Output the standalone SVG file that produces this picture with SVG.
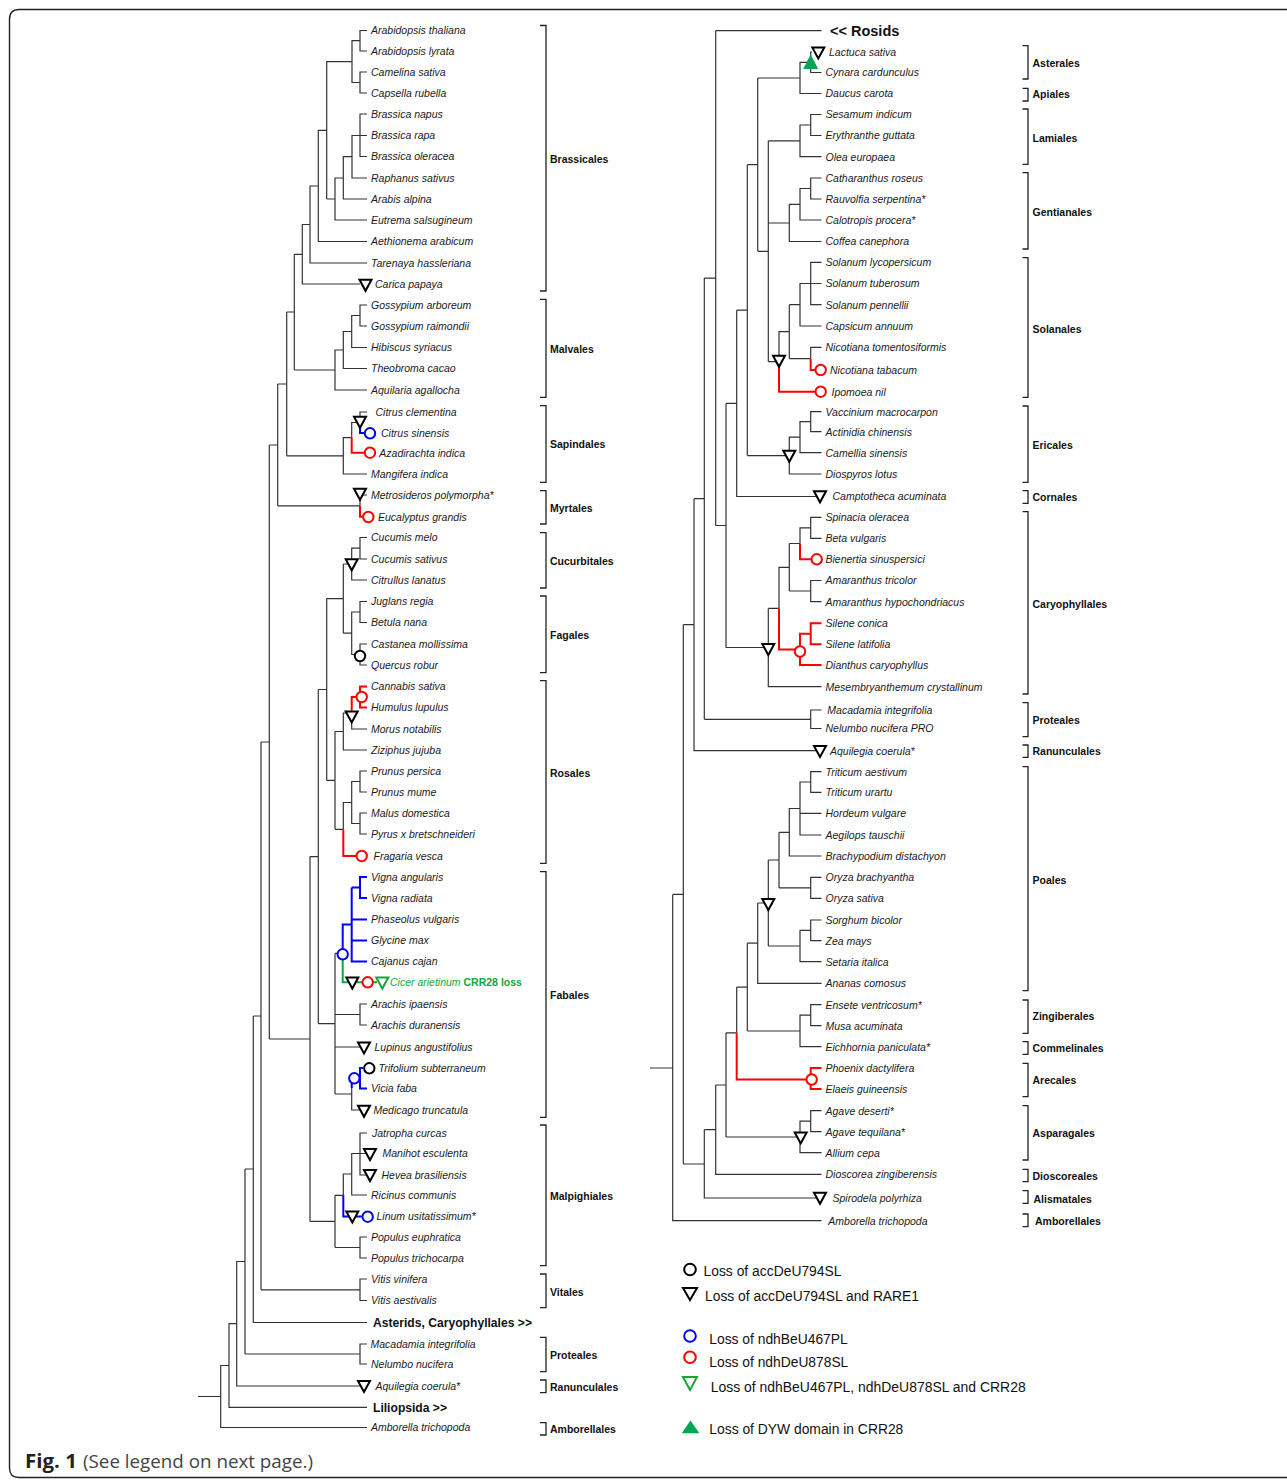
<svg xmlns="http://www.w3.org/2000/svg" xmlns:xlink="http://www.w3.org/1999/xlink" width="1287" height="1481" viewBox="0 0 1287 1481">
<style>
.ln{fill:none;stroke:#333;stroke-width:1.2}
.rd{fill:none;stroke:#f00;stroke-width:2}
.bl{fill:none;stroke:#00f;stroke-width:2}
.gr{fill:none;stroke:#13a538;stroke-width:2}
.br{fill:none;stroke:#222;stroke-width:1.3}
.sp{font-family:"Liberation Sans",Arial,sans-serif;font-style:italic;font-size:10.5px;fill:#1a1a1a}
.od{font-family:"Liberation Sans",Arial,sans-serif;font-weight:bold;font-size:10.5px;fill:#111}
.bg{font-family:"Liberation Sans",Arial,sans-serif;font-weight:bold;font-size:13.5px;fill:#111}
.lg{font-family:"Liberation Sans",Arial,sans-serif;font-size:15.5px;fill:#111}
.cap{font-family:"Open Sans","Liberation Sans",sans-serif;font-size:19px;fill:#444}
.tk{fill:#fff;stroke:#000;stroke-width:2}
.tg{fill:#fff;stroke:#13a538;stroke-width:2}
.ck{fill:#fff;stroke:#000;stroke-width:2}
.cr{fill:#fff;stroke:#f00;stroke-width:2}
.cb{fill:#fff;stroke:#00f;stroke-width:2}
</style>
<defs>
<path id="tri" d="M-6,-4.8H6L0,6.3Z"/>
</defs>
<rect width="1287" height="1481" fill="#fff"/>
<path d="M1295 9.5H19Q9.5 9.5 9.5 19V1468Q9.5 1477.5 19 1477.5H1295" fill="none" stroke="#222" stroke-width="1.4"/>

<g id="branches">
<path class="ln" d="M367 30.5H360V51H367M367 72H360V93H367M360 40.7H352V82.5H360M367 114H360V156.5H367M360 135.5H367M360 135.5H352V178H367M352 156.7H343.3V199H367M343.3 178H335V220H367M335 199H326.7M352 61.6H326.7V199M326.7 130.3H318.3V241.5H367M318.3 186H310V263H367M310 224.5H302.3V284H360M302.3 254.3H294.3
M367 305H360V326H367M360 315.5H351.7V347.5H367M351.7 331.5H343.3V368.5H367M343.3 350H335V390H367M335 370H294.3M294.3 254.3V370M294.3 312H286.7
M367 412H360V422.5M360 422.5H351.7V437.6M351.7 437.6H343.3V474H367M343.3 455.8H286.7M286.7 312V455.8M286.7 384H277.7
M367 495H360V505.8M360 505.8H277.7M277.7 384V505.8M277.7 445H269.3
M367 537.5H360V559H367M360 548.2H351.7V580H367M351.7 564H343.3
M367 601.5H360V622.5H367M367 644H360V665H367M360 612H351.7V654.5H360M351.7 633.2H343.3M343.3 564V633.2M343.3 598.6H326.7
M351.7 710V729H367M351.7 713H343.3V750H367M343.3 731.5H335M367 771H360V792H367M367 813H360V834H367M360 781.5H351.7V823.5H360M351.7 802.5H343.3V829.3M343.3 829.3H335M335 731.5V829.3M335 780.4H326.7M326.7 598.6V780.4M326.7 689.5H318.3
M342.7 953.4H335M367 1004H360V1025H367M360 1014.5H335M335 1047H364M351.7 1078.3V1110H364M351.7 1094H335M335 953.4V1094M335 1023.7H318.3M318.3 689.5V1023.7M318.3 856.6H310
M367 1133H360V1175H370M360 1153.5H370M360 1153.5H351.7V1195H367M351.7 1174H343.3V1195.3M343.3 1195.3H335M367 1237H360V1258H367M360 1247.5H335M335 1195.3V1247.5M335 1221.4H310M310 856.6V1221.4M310 1039H269.3M269.3 445V1039M269.3 742H261
M367 1279H360V1300.5H367M360 1289.8H261M261 742V1289.8M261 1016H253.3M253.3 1016V1322.5H367M253.3 1169H245M367 1344H360V1364H367M360 1354H245M245 1169V1354M245 1261.5H236.7V1386H364M236.7 1323.7H229V1407.3H367M229 1365.5H220.7V1427.5H367M220.7 1396.5H198"/>
<path class="rd" d="M351.7 437.6V452.7H364M360 505.8V516.7H362M367 686.5H360V707.5H367M360 697H351.7V710M343.3 829.3V856H356"/>
<path class="bl" d="M360 422.5V433H364M367 877H360V898H367M360 887.5H351.7M351.7 887.5V961.5H367M351.7 919.5H367M351.7 940.5H367M351.7 924.5H342.7V949M363 1068H360V1088.5H367M360 1078.3H351.7V1088M343.3 1195.3V1216.5H362"/>
<path class="gr" d="M342.7 959V982.3H377"/>

<path class="ln" d="M821.5 30.7H715.7M812 52H810.7V72.5H821.5M810.7 62.3H800V93.5H821.5M800 78H757.7M821.5 114.5H810.7V135.5H821.5M810.7 125H800V156.7H821.5M800 140.8H768.3M821.5 178H810.7V199H821.5M810.7 188.5H800V220H821.5M800 204.3H789.3V241.5H821.5M789.3 223H768.3
M821.5 262.3H810.7V304.7H821.5M810.7 283.5H821.5M810.7 283.5H800V326H821.5M800 304.7H789.3M821.5 347.3H810.7V358.6M810.7 358.6H789.3M789.3 304.7V358.6M789.3 331.7H779V361.7M779 361.7H768.3M768.3 140.8V361.7M768.3 251.3H757.7M757.7 78V251.3M757.7 164.7H747.3
M821.5 411.7H810.7V431.7H821.5M810.7 421.7H800V452.7H821.5M800 437.2H789.3V474H821.5M789.3 455.6H747.3M747.3 164.7V455.6M747.3 310.2H736.7M736.7 310.2V496.5H820M736.7 403.4H726
M821.5 517.3H810.7V538.3H821.5M810.7 527.8H800V543.5M800 543.5H789.3M821.5 580.5H810.7V601.7H821.5M810.7 591H789.3M789.3 543.5V591M789.3 567.3H779V608.4M779 608.4H768.3M768.3 608.4V686.7H821.5M768.3 647.5H726M726 403.4V647.5M726 525.5H715.7M715.7 30.7V525.5M715.7 278.1H704.3
M821.5 710H810.7V728.5H821.5M810.7 719.3H704.3M704.3 278.1V719.3M704.3 498.7H694M694 498.7V750.7H820M694 624.7H683.3
M821.5 771.7H810.7V792.3H821.5M810.7 782H800V835H821.5M800 813.3H821.5M800 808.5H789.3V856H821.5M789.3 832.3H779M821.5 877.3H810.7V898.3H821.5M810.7 887.8H779M779 832.3V887.8M779 860H768.3M821.5 920H810.7V940.7H821.5M810.7 930.3H800V961.7H821.5M800 946H768.3M768.3 860V946M768.3 903H757.7M757.7 903V983.3H821.5M757.7 943.2H747.3
M821.5 1004.7H810.7V1025.7H821.5M810.7 1015.2H800V1046.7H821.5M800 1031H747.3M747.3 943.2V1031M747.3 987.1H736.7M736.7 987.1V1032.8M736.7 1032.8H726M821.5 1110.7H810.7V1131.7H821.5M810.7 1121.2H800V1152.7H821.5M800 1137H726M726 1032.8V1137M726 1085H715.7M715.7 1085V1174.3H821.5M715.7 1129.7H704.3M704.3 1129.7V1198H820M704.3 1164H683.3M683.3 624.7V1164M683.3 894.4H672.7M672.7 894.4V1220.7H821.5M672.7 1068H650"/>
<path class="rd" d="M810.7 358.6V370H815M779 361.7V391.7H815M800 543.5V559.3H811M821.5 623.3H810.7V644.3H821.5M810.7 633.8H800V665H821.5M800 649.4H779V608.4M821.5 1068H810.7V1089H821.5M806 1079.5H736.7V1032.8"/>
</g>

<g id="brackets">
<path class="br" d="M540 25.5H546V291H540M540 299.3H546V397.3H540M540 405.7H546V482.3H540M540 490.7H546V524H540M540 532.7H546V588H540M540 596H546V672.7H540M540 680.7H546V863.3H540M540 871.7H546V1117.3H540M540 1125H546V1265.7H540M540 1274H546V1307.7H540M540 1337.3H546V1371.7H540M540 1380H546V1392.7H540M540 1422.7H546V1435H540"/>
<path class="br" d="M1022.5 45.7H1028V79H1022.5M1022.5 88.3H1028V101H1022.5M1022.5 109H1028V164.3H1022.5M1022.5 172.7H1028V249H1022.5M1022.5 257.7H1028V397.3H1022.5M1022.5 406H1028V482.3H1022.5M1022.5 490.7H1028V503.3H1022.5M1022.5 511.7H1028V694H1022.5M1022.5 702.7H1028V736.7H1022.5M1022.5 745H1028V757.3H1022.5M1022.5 766.7H1028V990.7H1022.5M1022.5 1000H1028V1033.3H1022.5M1022.5 1041.7H1028V1054.3H1022.5M1022.5 1063.3H1028V1096.7H1022.5M1022.5 1105.7H1028V1160H1022.5M1022.5 1169.3H1028V1181.7H1022.5M1022.5 1190.7H1028V1203.3H1022.5M1022.5 1214H1028V1226.7H1022.5"/>
</g>

<g id="orders">
<text class="od" x="550" y="162.8">Brassicales</text>
<text class="od" x="550" y="352.8">Malvales</text>
<text class="od" x="550" y="447.8">Sapindales</text>
<text class="od" x="550" y="511.8">Myrtales</text>
<text class="od" x="550" y="564.8">Cucurbitales</text>
<text class="od" x="550" y="638.8">Fagales</text>
<text class="od" x="550" y="776.8">Rosales</text>
<text class="od" x="550" y="998.8">Fabales</text>
<text class="od" x="550" y="1199.8">Malpighiales</text>
<text class="od" x="550" y="1295.8">Vitales</text>
<text class="od" x="550" y="1358.8">Proteales</text>
<text class="od" x="550" y="1390.8">Ranunculales</text>
<text class="od" x="550" y="1432.8">Amborellales</text>
<text class="od" x="1032.5" y="66.8">Asterales</text>
<text class="od" x="1032.5" y="97.8">Apiales</text>
<text class="od" x="1032.5" y="141.8">Lamiales</text>
<text class="od" x="1032.5" y="215.8">Gentianales</text>
<text class="od" x="1032.5" y="332.8">Solanales</text>
<text class="od" x="1032.5" y="448.8">Ericales</text>
<text class="od" x="1032.5" y="500.8">Cornales</text>
<text class="od" x="1032.5" y="607.8">Caryophyllales</text>
<text class="od" x="1032.5" y="723.8">Proteales</text>
<text class="od" x="1032.5" y="754.8">Ranunculales</text>
<text class="od" x="1032.5" y="883.8">Poales</text>
<text class="od" x="1032.5" y="1019.8">Zingiberales</text>
<text class="od" x="1032.5" y="1051.8">Commelinales</text>
<text class="od" x="1032.5" y="1083.8">Arecales</text>
<text class="od" x="1032.5" y="1136.8">Asparagales</text>
<text class="od" x="1032.5" y="1179.8">Dioscoreales</text>
<text class="od" x="1033.5" y="1202.8">Alismatales</text>
<text class="od" x="1035" y="1224.8">Amborellales</text>
</g>

<g id="events">
<use href="#tri" class="tk" x="365.5" y="284.5"/>
<use href="#tri" class="tk" x="360" y="421.5"/>
<use href="#tri" class="tk" x="360" y="493.5"/>
<use href="#tri" class="tk" x="351.7" y="564"/>
<use href="#tri" class="tk" x="351.7" y="716.2"/>
<use href="#tri" class="tk" x="352.3" y="982.3"/>
<use href="#tri" class="tg" x="382.3" y="982.3"/>
<use href="#tri" class="tk" x="364" y="1047.2"/>
<use href="#tri" class="tk" x="364" y="1110.5"/>
<use href="#tri" class="tk" x="370" y="1153.8"/>
<use href="#tri" class="tk" x="370" y="1174.8"/>
<use href="#tri" class="tk" x="352.3" y="1216.2"/>
<use href="#tri" class="tk" x="364" y="1385.7"/>
<use href="#tri" class="tk" x="818.3" y="52.2"/>
<use href="#tri" class="tk" x="779" y="360.5"/>
<use href="#tri" class="tk" x="789.3" y="455.5"/>
<use href="#tri" class="tk" x="820" y="496"/>
<use href="#tri" class="tk" x="768.3" y="648.8"/>
<use href="#tri" class="tk" x="820" y="750.7"/>
<use href="#tri" class="tk" x="768.3" y="903.8"/>
<use href="#tri" class="tk" x="800.7" y="1137.2"/>
<use href="#tri" class="tk" x="820" y="1197.5"/>
<path d="M803.2 69H818.2L810.7 54.5Z" fill="#00a651"/>
<circle class="cb" cx="370" cy="433.3" r="5.2"/>
<circle class="cr" cx="370" cy="452.7" r="5.2"/>
<circle class="cr" cx="368.3" cy="517" r="5.2"/>
<circle class="ck" cx="360" cy="656" r="5.2"/>
<circle class="cr" cx="361.7" cy="697" r="5.2"/>
<circle class="cr" cx="361.7" cy="856" r="5.2"/>
<circle class="cb" cx="342.7" cy="954.3" r="5.2"/>
<circle class="cr" cx="367.7" cy="982.3" r="5.2"/>
<circle class="ck" cx="369.3" cy="1068.3" r="5.2"/>
<circle class="cb" cx="354.3" cy="1078.3" r="5.2"/>
<circle class="cb" cx="367.7" cy="1216.7" r="5.2"/>
<circle class="cr" cx="820.7" cy="370" r="5.2"/>
<circle class="cr" cx="820.7" cy="391.7" r="5.2"/>
<circle class="cr" cx="816.7" cy="559.3" r="5.2"/>
<circle class="cr" cx="800" cy="651.5" r="5.2"/>
<circle class="cr" cx="811.7" cy="1079.5" r="5.2"/>
</g>

<g id="taxa-left">
<g id="n-arabidopsis-thaliana"><text class="sp" x="371" y="34.3">Arabidopsis thaliana</text></g>
<g id="n-arabidopsis-lyrata"><text class="sp" x="371" y="54.8">Arabidopsis lyrata</text></g>
<g id="n-camelina-sativa"><text class="sp" x="371" y="75.8">Camelina sativa</text></g>
<g id="n-capsella-rubella"><text class="sp" x="371" y="96.8">Capsella rubella</text></g>
<g id="n-brassica-napus"><text class="sp" x="371" y="117.8">Brassica napus</text></g>
<g id="n-brassica-rapa"><text class="sp" x="371" y="139.3">Brassica rapa</text></g>
<g id="n-brassica-oleracea"><text class="sp" x="371" y="160.3">Brassica oleracea</text></g>
<g id="n-raphanus-sativus"><text class="sp" x="371" y="181.8">Raphanus sativus</text></g>
<g id="n-arabis-alpina"><text class="sp" x="371" y="202.8">Arabis alpina</text></g>
<g id="n-eutrema-salsugineum"><text class="sp" x="371" y="223.8">Eutrema salsugineum</text></g>
<g id="n-aethionema-arabicum"><text class="sp" x="371" y="245.3">Aethionema arabicum</text></g>
<g id="n-tarenaya-hassleriana"><text class="sp" x="371" y="266.8">Tarenaya hassleriana</text></g>
<g id="n-carica-papaya"><text class="sp" x="375" y="287.8">Carica papaya</text></g>
<g id="n-gossypium-arboreum"><text class="sp" x="371" y="308.8">Gossypium arboreum</text></g>
<g id="n-gossypium-raimondii"><text class="sp" x="371" y="329.8">Gossypium raimondii</text></g>
<g id="n-hibiscus-syriacus"><text class="sp" x="371" y="351.3">Hibiscus syriacus</text></g>
<g id="n-theobroma-cacao"><text class="sp" x="371" y="372.3">Theobroma cacao</text></g>
<g id="n-aquilaria-agallocha"><text class="sp" x="371" y="393.8">Aquilaria agallocha</text></g>
<g id="n-citrus-clementina"><text class="sp" x="375.5" y="415.8">Citrus clementina</text></g>
<g id="n-citrus-sinensis"><text class="sp" x="381" y="436.8">Citrus sinensis</text></g>
<g id="n-azadirachta-indica"><text class="sp" x="379.3" y="456.5">Azadirachta indica</text></g>
<g id="n-mangifera-indica"><text class="sp" x="371" y="477.8">Mangifera indica</text></g>
<g id="n-metrosideros-polymorpha"><text class="sp" x="371" y="498.8">Metrosideros polymorpha*</text></g>
<g id="n-eucalyptus-grandis"><text class="sp" x="378" y="520.5">Eucalyptus grandis</text></g>
<g id="n-cucumis-melo"><text class="sp" x="371" y="541.3">Cucumis melo</text></g>
<g id="n-cucumis-sativus"><text class="sp" x="371" y="562.8">Cucumis sativus</text></g>
<g id="n-citrullus-lanatus"><text class="sp" x="371" y="583.8">Citrullus lanatus</text></g>
<g id="n-juglans-regia"><text class="sp" x="371" y="605.3">Juglans regia</text></g>
<g id="n-betula-nana"><text class="sp" x="371" y="626.3">Betula nana</text></g>
<g id="n-castanea-mollissima"><text class="sp" x="371" y="647.8">Castanea mollissima</text></g>
<g id="n-quercus-robur"><text class="sp" x="371" y="668.8">Quercus robur</text></g>
<g id="n-cannabis-sativa"><text class="sp" x="371" y="690.3">Cannabis sativa</text></g>
<g id="n-humulus-lupulus"><text class="sp" x="371" y="711.3">Humulus lupulus</text></g>
<g id="n-morus-notabilis"><text class="sp" x="371" y="732.8">Morus notabilis</text></g>
<g id="n-ziziphus-jujuba"><text class="sp" x="371" y="753.8">Ziziphus jujuba</text></g>
<g id="n-prunus-persica"><text class="sp" x="371" y="774.8">Prunus persica</text></g>
<g id="n-prunus-mume"><text class="sp" x="371" y="795.8">Prunus mume</text></g>
<g id="n-malus-domestica"><text class="sp" x="371" y="816.8">Malus domestica</text></g>
<g id="n-pyrus-bretschneideri"><text class="sp" x="371" y="837.8">Pyrus x bretschneideri</text></g>
<g id="n-fragaria-vesca"><text class="sp" x="373.5" y="859.8">Fragaria vesca</text></g>
<g id="n-vigna-angularis"><text class="sp" x="371" y="880.8">Vigna angularis</text></g>
<g id="n-vigna-radiata"><text class="sp" x="371" y="901.8">Vigna radiata</text></g>
<g id="n-phaseolus-vulgaris"><text class="sp" x="371" y="923.3">Phaseolus vulgaris</text></g>
<g id="n-glycine-max"><text class="sp" x="371" y="944.3">Glycine max</text></g>
<g id="n-cajanus-cajan"><text class="sp" x="371" y="965.3">Cajanus cajan</text></g>
<g id="n-cicer-arietinum"><text class="sp" x="390" y="986.1" style="fill:#13a538">Cicer arietinum <tspan style="font-style:normal;font-weight:bold">CRR28 loss</tspan></text></g>
<g id="n-arachis-ipaensis"><text class="sp" x="371" y="1007.8">Arachis ipaensis</text></g>
<g id="n-arachis-duranensis"><text class="sp" x="371" y="1028.8">Arachis duranensis</text></g>
<g id="n-lupinus-angustifolius"><text class="sp" x="374.5" y="1050.8">Lupinus angustifolius</text></g>
<g id="n-trifolium-subterraneum"><text class="sp" x="378.5" y="1071.8">Trifolium subterraneum</text></g>
<g id="n-vicia-faba"><text class="sp" x="371" y="1092.3">Vicia faba</text></g>
<g id="n-medicago-truncatula"><text class="sp" x="373.5" y="1113.8">Medicago truncatula</text></g>
<g id="n-jatropha-curcas"><text class="sp" x="372" y="1136.8">Jatropha curcas</text></g>
<g id="n-manihot-esculenta"><text class="sp" x="382.5" y="1157.3">Manihot esculenta</text></g>
<g id="n-hevea-brasiliensis"><text class="sp" x="381.5" y="1178.8">Hevea brasiliensis</text></g>
<g id="n-ricinus-communis"><text class="sp" x="371" y="1198.8">Ricinus communis</text></g>
<g id="n-linum-usitatissimum"><text class="sp" x="376.5" y="1220.3">Linum usitatissimum*</text></g>
<g id="n-populus-euphratica"><text class="sp" x="371" y="1240.8">Populus euphratica</text></g>
<g id="n-populus-trichocarpa"><text class="sp" x="371" y="1261.8">Populus trichocarpa</text></g>
<g id="n-vitis-vinifera"><text class="sp" x="371" y="1282.8">Vitis vinifera</text></g>
<g id="n-vitis-aestivalis"><text class="sp" x="371" y="1304.3">Vitis aestivalis</text></g>
<g id="n-asterids"><text class="bg" x="373" y="1327" textLength="159" lengthAdjust="spacingAndGlyphs">Asterids, Caryophyllales &gt;&gt;</text></g>
<g id="n-macadamia-l"><text class="sp" x="370.5" y="1347.8">Macadamia integrifolia</text></g>
<g id="n-nelumbo-l"><text class="sp" x="371" y="1367.8">Nelumbo nucifera</text></g>
<g id="n-aquilegia-l"><text class="sp" x="375.5" y="1389.8">Aquilegia coerula*</text></g>
<g id="n-liliopsida"><text class="bg" x="373" y="1411.8" textLength="74" lengthAdjust="spacingAndGlyphs">Liliopsida &gt;&gt;</text></g>
<g id="n-amborella-l"><text class="sp" x="371" y="1431.3">Amborella trichopoda</text></g>
</g>

<g id="taxa-right">
<g id="n-rosids"><text class="od" style="font-size:14.5px" x="830" y="36">&lt;&lt; Rosids</text></g>
<g id="n-lactuca-sativa"><text class="sp" x="829" y="55.8">Lactuca sativa</text></g>
<g id="n-cynara-cardunculus"><text class="sp" x="825.5" y="76.3">Cynara cardunculus</text></g>
<g id="n-daucus-carota"><text class="sp" x="825.5" y="97.3">Daucus carota</text></g>
<g id="n-sesamum-indicum"><text class="sp" x="825.5" y="118.3">Sesamum indicum</text></g>
<g id="n-erythranthe-guttata"><text class="sp" x="825.5" y="139.3">Erythranthe guttata</text></g>
<g id="n-olea-europaea"><text class="sp" x="825.5" y="160.5">Olea europaea</text></g>
<g id="n-catharanthus-roseus"><text class="sp" x="825.5" y="181.8">Catharanthus roseus</text></g>
<g id="n-rauvolfia-serpentina"><text class="sp" x="825.5" y="202.8">Rauvolfia serpentina*</text></g>
<g id="n-calotropis-procera"><text class="sp" x="825.5" y="223.8">Calotropis procera*</text></g>
<g id="n-coffea-canephora"><text class="sp" x="825.5" y="245.3">Coffea canephora</text></g>
<g id="n-solanum-lycopersicum"><text class="sp" x="825.5" y="266.1">Solanum lycopersicum</text></g>
<g id="n-solanum-tuberosum"><text class="sp" x="825.5" y="287.3">Solanum tuberosum</text></g>
<g id="n-solanum-pennellii"><text class="sp" x="825.5" y="308.5">Solanum pennellii</text></g>
<g id="n-capsicum-annuum"><text class="sp" x="825.5" y="329.8">Capsicum annuum</text></g>
<g id="n-nicotiana-tomentosiformis"><text class="sp" x="825.5" y="351.1">Nicotiana tomentosiformis</text></g>
<g id="n-nicotiana-tabacum"><text class="sp" x="830" y="373.8">Nicotiana tabacum</text></g>
<g id="n-ipomoea-nil"><text class="sp" x="831.5" y="395.5">Ipomoea nil</text></g>
<g id="n-vaccinium-macrocarpon"><text class="sp" x="825.5" y="415.5">Vaccinium macrocarpon</text></g>
<g id="n-actinidia-chinensis"><text class="sp" x="825.5" y="435.5">Actinidia chinensis</text></g>
<g id="n-camellia-sinensis"><text class="sp" x="825.5" y="456.5">Camellia sinensis</text></g>
<g id="n-diospyros-lotus"><text class="sp" x="825.5" y="477.8">Diospyros lotus</text></g>
<g id="n-camptotheca-acuminata"><text class="sp" x="832.5" y="500.3">Camptotheca acuminata</text></g>
<g id="n-spinacia-oleracea"><text class="sp" x="825.5" y="521.1">Spinacia oleracea</text></g>
<g id="n-beta-vulgaris"><text class="sp" x="825.5" y="542.1">Beta vulgaris</text></g>
<g id="n-bienertia-sinuspersici"><text class="sp" x="825.5" y="563.1">Bienertia sinuspersici</text></g>
<g id="n-amaranthus-tricolor"><text class="sp" x="825.5" y="584.3">Amaranthus tricolor</text></g>
<g id="n-amaranthus-hypochondriacus"><text class="sp" x="825.5" y="605.5">Amaranthus hypochondriacus</text></g>
<g id="n-silene-conica"><text class="sp" x="825.5" y="627.1">Silene conica</text></g>
<g id="n-silene-latifolia"><text class="sp" x="825.5" y="648.1">Silene latifolia</text></g>
<g id="n-dianthus-caryophyllus"><text class="sp" x="825.5" y="668.8">Dianthus caryophyllus</text></g>
<g id="n-mesembryanthemum"><text class="sp" x="825.5" y="690.5">Mesembryanthemum crystallinum</text></g>
<g id="n-macadamia-r"><text class="sp" x="827.3" y="713.8">Macadamia integrifolia</text></g>
<g id="n-nelumbo-r"><text class="sp" x="825.5" y="732.3">Nelumbo nucifera PRO</text></g>
<g id="n-aquilegia-r"><text class="sp" x="830" y="754.5">Aquilegia coerula*</text></g>
<g id="n-triticum-aestivum"><text class="sp" x="825.5" y="775.5">Triticum aestivum</text></g>
<g id="n-triticum-urartu"><text class="sp" x="825.5" y="796.1">Triticum urartu</text></g>
<g id="n-hordeum-vulgare"><text class="sp" x="825.5" y="817.1">Hordeum vulgare</text></g>
<g id="n-aegilops-tauschii"><text class="sp" x="825.5" y="838.8">Aegilops tauschii</text></g>
<g id="n-brachypodium"><text class="sp" x="825.5" y="859.8">Brachypodium distachyon</text></g>
<g id="n-oryza-brachyantha"><text class="sp" x="825.5" y="881.1">Oryza brachyantha</text></g>
<g id="n-oryza-sativa"><text class="sp" x="825.5" y="902.1">Oryza sativa</text></g>
<g id="n-sorghum-bicolor"><text class="sp" x="825.5" y="923.8">Sorghum bicolor</text></g>
<g id="n-zea-mays"><text class="sp" x="825.5" y="944.5">Zea mays</text></g>
<g id="n-setaria-italica"><text class="sp" x="825.5" y="965.5">Setaria italica</text></g>
<g id="n-ananas-comosus"><text class="sp" x="825.5" y="987.1">Ananas comosus</text></g>
<g id="n-ensete-ventricosum"><text class="sp" x="825.5" y="1008.5">Ensete ventricosum*</text></g>
<g id="n-musa-acuminata"><text class="sp" x="825.5" y="1029.5">Musa acuminata</text></g>
<g id="n-eichhornia-paniculata"><text class="sp" x="825.5" y="1050.5">Eichhornia paniculata*</text></g>
<g id="n-phoenix-dactylifera"><text class="sp" x="825.5" y="1071.8">Phoenix dactylifera</text></g>
<g id="n-elaeis-guineensis"><text class="sp" x="825.5" y="1092.8">Elaeis guineensis</text></g>
<g id="n-agave-deserti"><text class="sp" x="825.5" y="1114.5">Agave deserti*</text></g>
<g id="n-agave-tequilana"><text class="sp" x="825.5" y="1135.5">Agave tequilana*</text></g>
<g id="n-allium-cepa"><text class="sp" x="825.5" y="1156.5">Allium cepa</text></g>
<g id="n-dioscorea"><text class="sp" x="825.5" y="1178.1">Dioscorea zingiberensis</text></g>
<g id="n-spirodela"><text class="sp" x="832.5" y="1201.8">Spirodela polyrhiza</text></g>
<g id="n-amborella-r"><text class="sp" x="828.3" y="1224.5">Amborella trichopoda</text></g>
</g>

<g id="legend">
<circle class="ck" cx="690" cy="1269.5" r="5.8"/>
<text class="lg" x="703.5" y="1276" textLength="138" lengthAdjust="spacingAndGlyphs">Loss of accDeU794SL</text>
<path d="M683 1288H697L690 1300Z" class="tk"/>
<text class="lg" x="705" y="1300.5" textLength="214" lengthAdjust="spacingAndGlyphs">Loss of accDeU794SL and RARE1</text>
<circle class="cb" cx="690" cy="1336" r="5.8"/>
<text class="lg" x="709.3" y="1344" textLength="138.4" lengthAdjust="spacingAndGlyphs">Loss of ndhBeU467PL</text>
<circle class="cr" cx="690" cy="1357.3" r="5.8"/>
<text class="lg" x="709.3" y="1366.5" textLength="139" lengthAdjust="spacingAndGlyphs">Loss of ndhDeU878SL</text>
<path d="M683 1377H697L690 1390Z" class="tg"/>
<text class="lg" x="710.7" y="1391.5" textLength="315" lengthAdjust="spacingAndGlyphs">Loss of ndhBeU467PL, ndhDeU878SL and CRR28</text>
<path d="M681.7 1433.3H699.3L690.5 1420.5Z" fill="#00a651"/>
<text class="lg" x="709.3" y="1434" textLength="194" lengthAdjust="spacingAndGlyphs">Loss of DYW domain in CRR28</text>
</g>

<g id="caption">
<text class="cap" x="25" y="1468" style="font-weight:bold;fill:#222" textLength="52" lengthAdjust="spacingAndGlyphs">Fig. 1</text>
<text class="cap" x="83" y="1468" textLength="230" lengthAdjust="spacingAndGlyphs">(See legend on next page.)</text>
</g>
</svg>
